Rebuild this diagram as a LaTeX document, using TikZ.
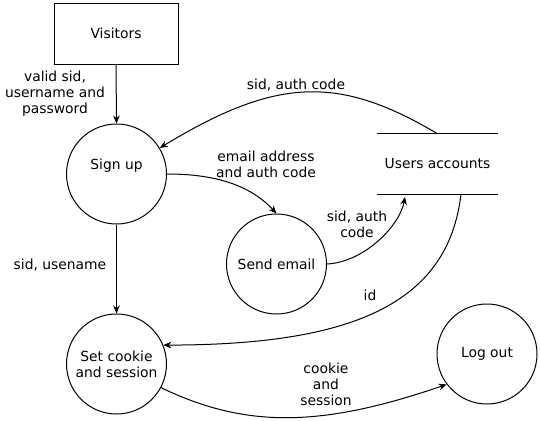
\documentclass[tikz,border=0pt]{standalone}
\usepackage{fontspec}
\setmainfont{DejaVu Sans}
\usetikzlibrary{arrows.meta}
\begin{document}
\begin{tikzpicture}[x=0.75pt,y=-0.75pt,
  font=\fontsize{10.4}{12}\selectfont,
  proc/.style={circle, draw, line width=0.75pt, minimum size=75pt, inner sep=0pt, align=center},
  ent/.style={rectangle, draw, line width=0.75pt, minimum width=93pt, minimum height=45.75pt, inner sep=0pt},
  store/.style={rectangle, minimum width=90.75pt, minimum height=45pt, inner sep=0pt},
  lbl/.style={align=center, inner sep=0pt},
  flow/.style={-{Stealth[length=6pt,width=5pt]}, line width=0.75pt}]
\useasboundingbox (0,0) rectangle (540,421);

% nodes
\node[ent] (vis) at (116,33.5) {Visitors};
\node[proc, label={[yshift=6pt]center:Sign up}] (su) at (116.5,174) {};
\node[proc] (se) at (276.5,264) {Send email};
\node[proc] (sc) at (116.5,364) {Set cookie\\and session};
\node[proc] (lo) at (487,354) {Log out};
\node[store] (ua) at (437.5,164) {Users accounts};
\draw[line width=0.75pt] (ua.north west) -- (ua.north east);
\draw[line width=0.75pt] (ua.south west) -- (ua.south east);

% connectors
\draw[flow] (vis.south) -- (su.north);
\draw[flow] (ua.north) .. controls (340,76) and (278,76) .. (su.31);
\draw[flow] (su.east) .. controls (215,174) and (250,185) .. (se.north);
\draw[flow] (se.east) .. controls (365,262) and (400,225) .. ([xshift=-24.4pt,yshift=-2pt]ua.south);
\draw[flow] ([xshift=17.6pt]ua.south) .. controls (448,305) and (350,345) .. (sc.22);
\draw[flow] (su.south) -- (sc.north);
\draw[flow] (sc.-28) .. controls (245,428) and (320,428) .. (lo.217);

% labels
\node[lbl] (l1) at (55,94) {valid sid,\\username and\\password};
\node[lbl] (l2) at (296,85) {sid, auth code};
\node[lbl] (l3) at (266,164) {email address\\and auth code};
\node[lbl] (l4) at (357,224) {sid, auth\\code};
\node[lbl] (l5) at (370,295) {id};
\node[lbl] (l6) at (60,265) {sid, usename};
\node[lbl] (l7) at (326,384) {cookie\\and\\session};
\end{tikzpicture}
\end{document}
